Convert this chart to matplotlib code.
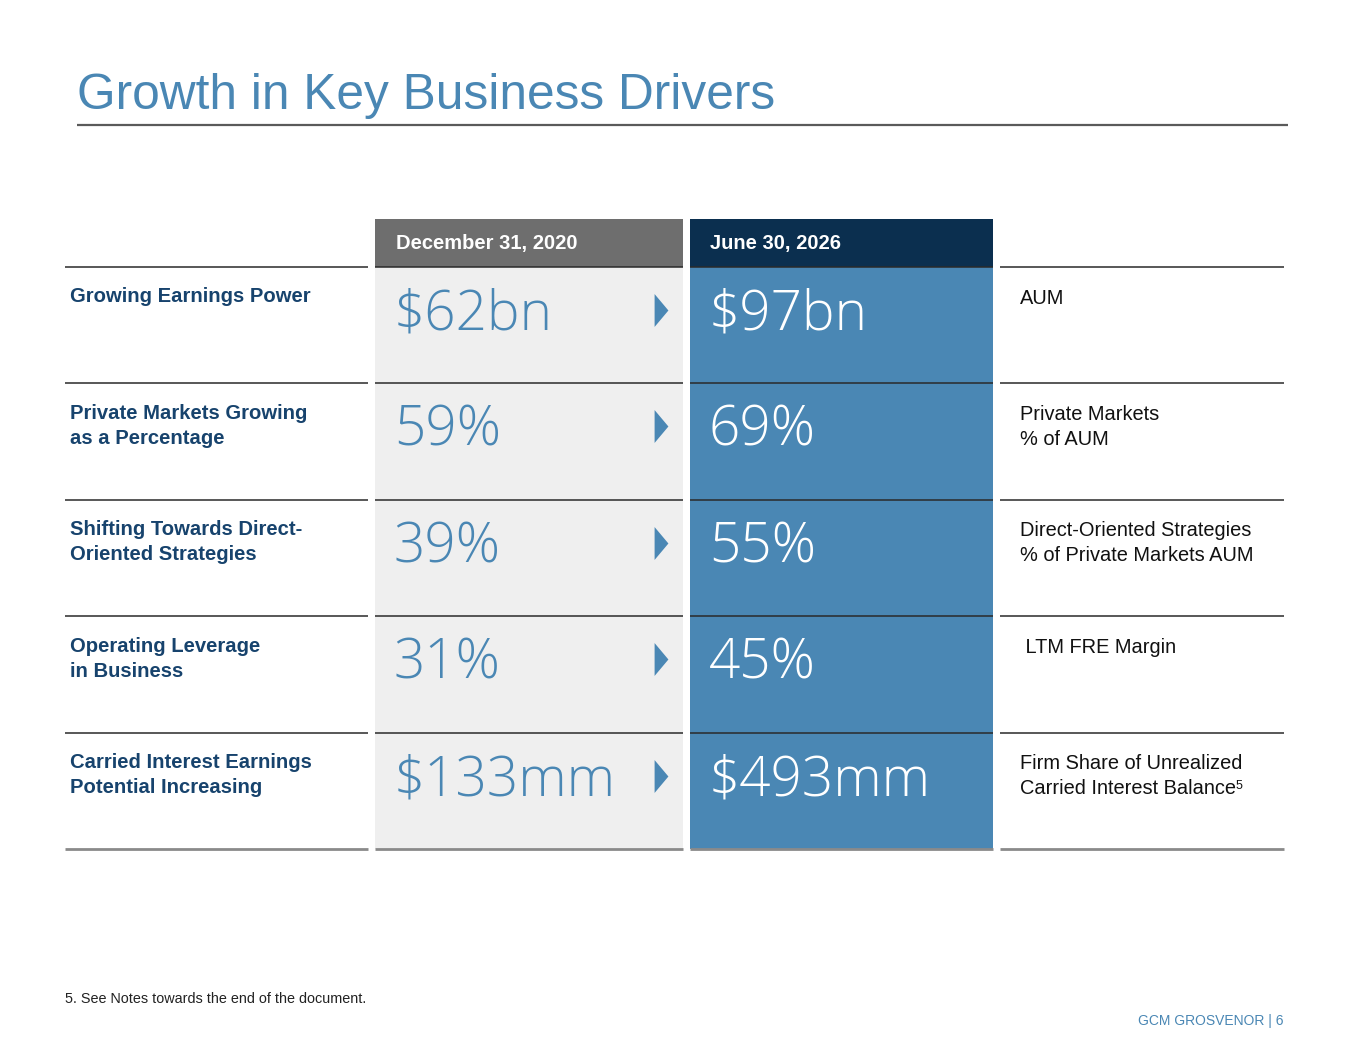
import matplotlib
matplotlib.use("Agg")
import matplotlib.pyplot as plt
from matplotlib.patches import Rectangle
from matplotlib import font_manager

# ---------------- data ----------------
title = "Growth in Key Business Drivers"
header_left = "December 31, 2020"
header_right = "June 30, 2026"
drivers = [
    "Growing Earnings Power",
    "Private Markets Growing\nas a Percentage",
    "Shifting Towards Direct-\nOriented Strategies",
    "Operating Leverage\nin Business",
    "Carried Interest Earnings\nPotential Increasing",
]
values_2020 = ["$62bn", "59%", "39%", "31%", "$133mm"]
values_2026 = ["$97bn", "69%", "55%", "45%", "$493mm"]
metrics = [
    "AUM",
    "Private Markets\n% of AUM",
    "Direct-Oriented Strategies\n% of Private Markets AUM",
    " LTM FRE Margin",
    "Firm Share of Unrealized\nCarried Interest Balance",
]
metric_superscripts = ["", "", "", "", "5"]
footnote = "5. See Notes towards the end of the document."
footer = "GCM GROSVENOR | 6"

# ---------------- styles ----------------
BLUE = "#4A87B4"
NAVY = "#0B2F4F"
LABEL = "#17436D"
GREY_HDR = "#6E6E6E"
LIGHT = "#EFEFEF"

fonts = font_manager.fontManager.ttflist
names = {f.name for f in fonts}
SANS = "Liberation Sans" if "Liberation Sans" in names else "DejaVu Sans"
LIGHTFONT = SANS
for cand in ["Open Sans", "Lato", "Inter", "Roboto"]:
    if any(f.name == cand and f.weight in (300, "light") and f.style == "normal" for f in fonts):
        LIGHTFONT = cand
        break
plt.rcParams["font.family"] = [SANS, "DejaVu Sans"]

fig = plt.figure(figsize=(13.65, 10.55), dpi=100)
ax = fig.add_axes([0, 0, 1, 1])
ax.set_xlim(0, 1365)
ax.set_ylim(1055, 0)
ax.axis("off")

# title
ax.text(77, 96, title, fontsize=35.7, color=BLUE, va="center", ha="left")
ax.plot([77, 1288], [125, 125], color="#5A5A5A", lw=1.6, solid_capstyle="butt")

# column geometry
top_hdr, top_tbl, row_h = 219, 267, 116.4
n = len(drivers)
bottom = top_tbl + n * row_h
c1 = (375, 683)
c2 = (690, 993)
segs = [(65, 368), c1, c2, (1000, 1284)]

ax.add_patch(Rectangle((c1[0], top_hdr), c1[1] - c1[0], top_tbl - top_hdr, color=GREY_HDR, lw=0))
ax.add_patch(Rectangle((c2[0], top_hdr), c2[1] - c2[0], top_tbl - top_hdr, color=NAVY, lw=0))
ax.add_patch(Rectangle((c1[0], top_tbl), c1[1] - c1[0], bottom - top_tbl, color=LIGHT, lw=0))
ax.add_patch(Rectangle((c2[0], top_tbl), c2[1] - c2[0], bottom - top_tbl, color=BLUE, lw=0))

ax.text(c1[0] + 21, 243, header_left, color="white", fontsize=14.5, fontweight="bold", va="center")
ax.text(c2[0] + 20, 243, header_right, color="white", fontsize=14.5, fontweight="bold", va="center")

# row lines
for i in range(n + 1):
    y = top_tbl + i * row_h
    last = i == n
    for (a, b) in segs:
        ax.plot([a, b], [y, y], color="#8A8A8A" if last else "#2A2A2A",
                lw=2.0 if last else 1.1, solid_capstyle="butt")

# rows
for i in range(n):
    y0 = top_tbl + i * row_h
    for j, line in enumerate(drivers[i].split("\n")):
        ax.text(70, y0 + 30 + j * 25, line, color=LABEL, fontsize=14.6, fontweight="bold",
                va="center", ha="left")
    ax.text(c1[0] + 19, y0 + 48, values_2020[i], color=BLUE, fontsize=39.5,
            family=[LIGHTFONT, SANS], fontweight="light", va="center", ha="left")
    ax.text(c2[0] + 19, y0 + 48, values_2026[i], color="white", fontsize=39.5,
            family=[LIGHTFONT, SANS], fontweight="light", va="center", ha="left")
    last_t = None
    for j, line in enumerate(metrics[i].split("\n")):
        last_t = ax.text(1020, y0 + 31 + j * 25, line, color="#111111", fontsize=14.4,
                         va="center", ha="left")
    if metric_superscripts[i]:
        ax.annotate(metric_superscripts[i], xy=(1.0, 0.95), xycoords=last_t,
                    fontsize=9, color="#111111", va="top", ha="left")

# arrows between columns
tri = [(-0.42, -1.0), (-0.42, 1.0), (0.42, 0.0)]
ys = [top_tbl + i * row_h + 43 for i in range(n)]
ax.scatter([661] * n, ys, marker=tri, s=560, color=BLUE, lw=0, zorder=5)

# footnote / footer
ax.text(65, 999, footnote, fontsize=10.4, color="#222222", va="center", ha="left")
ax.text(1284, 1021, footer, fontsize=10, color=BLUE, va="center", ha="right")

fig.savefig("out.png", dpi=100, facecolor="white")
